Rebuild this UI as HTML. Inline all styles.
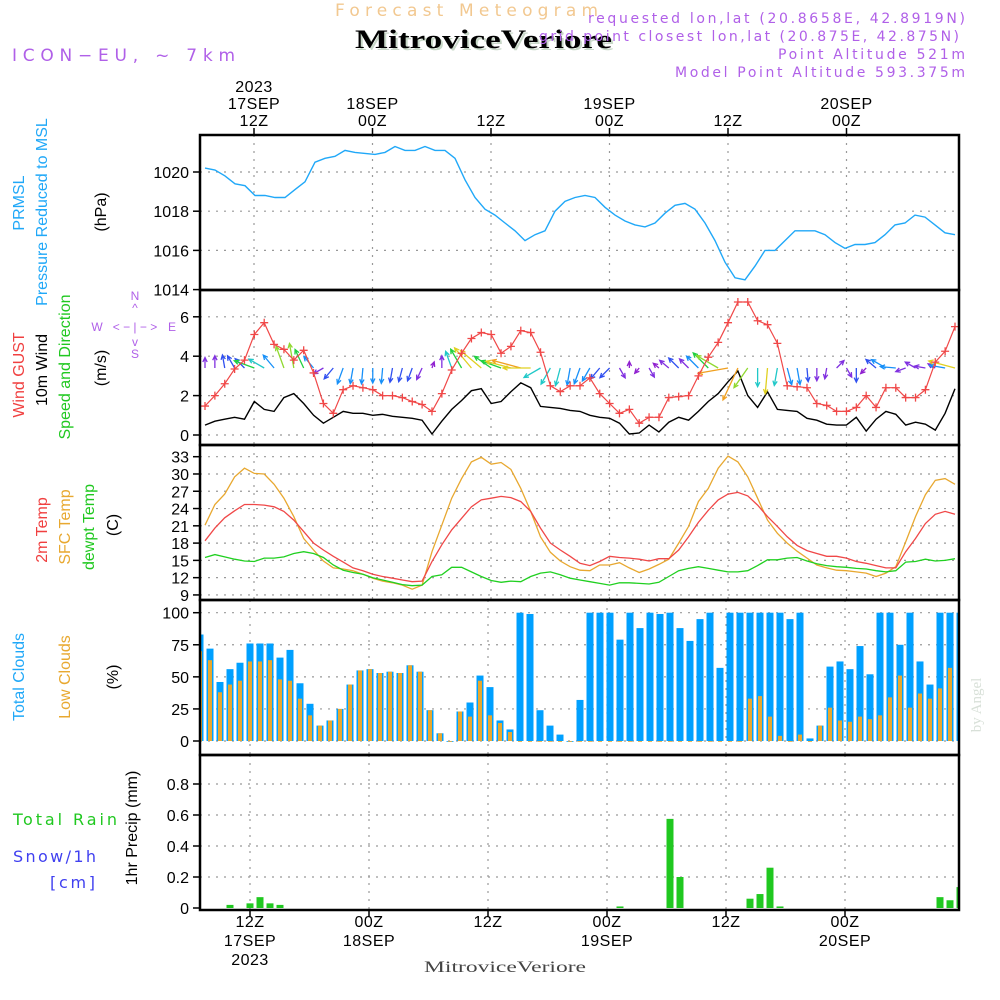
<!DOCTYPE html>
<html><head><meta charset="utf-8"><style>
html,body{margin:0;padding:0;background:#fff;}
svg{display:block;font-family:"Liberation Sans",sans-serif;}
.dv{font-family:"DejaVu Sans","Liberation Sans",sans-serif;}
</style></head><body>
<svg id="chart" width="1000" height="1000" viewBox="0 0 1000 1000" xmlns="http://www.w3.org/2000/svg">
<g id="hdr">
<text class="dv" x="335" y="16" textLength="263" lengthAdjust="spacing" font-size="17" fill="#f2c890">Forecast Meteogram</text>
<text x="357" y="50" textLength="257" lengthAdjust="spacingAndGlyphs" font-size="26" font-weight="bold" font-family="Liberation Serif,serif" fill="#c8d8c8">MitroviceVeriore</text>
<text x="355" y="48" textLength="257" lengthAdjust="spacingAndGlyphs" font-size="26" font-weight="bold" font-family="Liberation Serif,serif" fill="#000">MitroviceVeriore</text>
<text class="dv" x="12" y="61" textLength="223" lengthAdjust="spacing" font-size="17" fill="#b060e8">ICON−EU, ~ 7km</text>
<text class="dv" x="588" y="23" textLength="377" lengthAdjust="spacing" font-size="14" fill="#b060e8">requested lon,lat (20.8658E, 42.8919N)</text>
<text class="dv" x="539" y="41" textLength="420" lengthAdjust="spacing" font-size="14" fill="#b060e8">grid point closest lon,lat (20.875E, 42.875N)</text>
<text class="dv" x="778" y="59" textLength="187" lengthAdjust="spacing" font-size="14" fill="#b060e8">Point Altitude 521m</text>
<text class="dv" x="675" y="77" textLength="290" lengthAdjust="spacing" font-size="14" fill="#b060e8">Model Point Altitude 593.375m</text>
</g>
<g id="grid"></g>
<g id="marks"></g>
<g id="frames"></g>
<g id="labels" font-size="16">
<text transform="translate(24,203) rotate(-90)" text-anchor="middle" fill="#20a8f8">PRMSL</text>
<text transform="translate(47,212) rotate(-90)" text-anchor="middle" fill="#20a8f8">Pressure Reduced to MSL</text>
<text transform="translate(106,212) rotate(-90)" text-anchor="middle" fill="#000">(hPa)</text>
<text transform="translate(24,375) rotate(-90)" text-anchor="middle" fill="#f04040">Wind GUST</text>
<text transform="translate(47,370) rotate(-90)" text-anchor="middle" fill="#000">10m Wind</text>
<text transform="translate(70,367) rotate(-90)" text-anchor="middle" fill="#20c820">Speed and Direction</text>
<text transform="translate(106,368) rotate(-90)" text-anchor="middle" fill="#000">(m/s)</text>
<g fill="#b060e8" font-size="12" text-anchor="middle">
<text x="135" y="300">N</text><text x="135" y="312">^</text><text x="135" y="331">&lt; − | − &gt;</text><text x="97" y="331">W</text><text x="172" y="331">E</text><text x="135" y="346">v</text><text x="135" y="358">S</text>
</g>
<text transform="translate(47,530) rotate(-90)" text-anchor="middle" fill="#f04040">2m Temp</text>
<text transform="translate(70,527) rotate(-90)" text-anchor="middle" fill="#e8a830">SFC Temp</text>
<text transform="translate(94,527) rotate(-90)" text-anchor="middle" fill="#20c820">dewpt Temp</text>
<text transform="translate(118,525) rotate(-90)" text-anchor="middle" fill="#000">(C)</text>
<text transform="translate(24,677) rotate(-90)" text-anchor="middle" fill="#20a8f8">Total Clouds</text>
<text transform="translate(70,677) rotate(-90)" text-anchor="middle" fill="#e8a830">Low Clouds</text>
<text transform="translate(118,677) rotate(-90)" text-anchor="middle" fill="#000">(%)</text>
<text class="dv" x="13" y="825" textLength="104" lengthAdjust="spacing" fill="#20c820">Total  Rain</text>
<text class="dv" x="13" y="862" textLength="83" lengthAdjust="spacing" fill="#4040f0">Snow/1h</text>
<text class="dv" x="50" y="888" textLength="45" lengthAdjust="spacing" fill="#4040f0">[cm]</text>
<text transform="translate(137,828) rotate(-90)" text-anchor="middle" fill="#000">1hr Precip (mm)</text>
<text transform="translate(981,705) rotate(-90)" text-anchor="middle" fill="#d8e0d8" font-family="Liberation Serif,serif" font-size="15">by Angel</text>
<text x="424" y="972" textLength="162" lengthAdjust="spacingAndGlyphs" fill="#444" font-family="Liberation Serif,serif" font-size="16">MitroviceVeriore</text>
</g>
</svg>
<script>
const pressure=[1020.2,1020.1,1019.8,1019.4,1019.3,1018.8,1018.8,1018.7,1018.7,1019.1,1019.5,1020.5,1020.7,1020.8,1021.1,1021.0,1020.95,1020.9,1021.0,1021.3,1021.1,1021.1,1021.3,1021.1,1021.1,1020.7,1019.6,1018.7,1018.1,1017.8,1017.4,1017.0,1016.5,1016.8,1017.0,1018.0,1018.5,1018.7,1018.8,1018.7,1018.2,1017.8,1017.5,1017.3,1017.2,1017.4,1017.9,1018.3,1018.4,1018.1,1017.4,1016.5,1015.4,1014.6,1014.5,1015.2,1016.0,1016.0,1016.5,1017.0,1017.0,1017.0,1016.8,1016.4,1016.1,1016.3,1016.3,1016.4,1016.8,1017.3,1017.4,1017.8,1017.7,1017.3,1016.9,1016.8];
const windGust=[1.47,2.0,2.6,3.35,3.8,5.1,5.7,4.6,4.35,3.8,4.3,3.15,1.6,1.1,2.3,2.5,2.4,2.3,2.0,2.0,1.9,1.7,1.55,1.2,2.1,3.3,4.15,4.9,5.2,5.1,4.15,4.5,5.3,5.2,4.2,2.5,2.2,2.5,2.5,2.9,2.1,1.6,1.1,1.3,0.6,0.9,0.9,1.9,1.95,2.0,3.0,3.95,4.7,5.7,6.75,6.75,5.8,5.6,4.65,2.5,2.45,2.4,1.6,1.5,1.2,1.2,1.4,2.0,1.4,2.4,2.4,1.9,1.9,2.3,3.7,4.25,5.5];
const windSpeed=[0.5,0.7,0.8,0.9,0.8,1.7,1.3,1.2,1.9,2.1,1.6,1.0,0.6,0.9,1.2,1.1,1.1,1.0,1.05,0.95,0.9,0.85,0.75,0.05,0.7,1.3,1.75,2.25,2.35,1.6,1.7,2.2,2.65,2.4,1.45,1.4,1.35,1.25,1.2,1.0,0.9,0.85,0.6,0.05,0.1,0.5,0.15,0.65,0.9,0.75,1.2,1.7,2.1,2.7,3.25,2.0,1.4,2.2,1.3,1.25,1.2,0.85,0.75,0.55,0.5,0.5,0.9,0.2,0.8,1.2,1.05,0.5,0.65,0.55,0.25,1.1,2.35];
const windDir=[0,0,350,330,315,290,300,320,340,350,335,320,240,220,200,190,185,180,185,190,195,200,205,20,0,340,330,320,310,305,290,285,285,270,240,210,195,190,200,210,220,225,150,0,220,150,310,310,315,315,315,315,300,260,205,215,180,185,190,165,170,175,180,190,45,150,180,225,310,300,275,250,300,280,300,280,285];
const temp2m=[18.4,20.6,22.4,23.6,24.7,24.7,24.6,24.3,23.5,22,20,18,16.8,15.7,14.7,13.7,13.2,12.6,12.2,11.9,11.6,11.3,11.4,14.8,17.7,20.3,22.3,24.3,25.5,25.8,26.1,25.9,25.2,23.5,20.6,18,16.8,15.7,14.5,14.1,14.8,15.7,15.5,15.4,15.2,14.9,15.3,15.3,16.8,19.1,21.6,23.7,25.5,26.5,26.8,26.2,24.6,22.6,20.9,19.1,17.6,16.7,16.2,15.7,15.7,15.4,14.8,14.5,14.1,13.7,13.7,16.5,18.8,21.4,23,23.5,23];
const tempSfc=[21.1,24.7,26.5,29.5,31,30.1,30,28.2,25.8,22.6,18.8,16.8,14.9,13.7,13.5,13.2,12.6,11.9,11.4,11.1,10.7,10,10.7,16.5,21.1,25.8,29.2,32.1,32.9,31.7,32,30.8,27.5,23.5,19.1,16.4,14.9,13.9,13.3,13.2,14.2,14.2,14.6,13.7,12.9,13.5,14.3,15.2,18,20.9,25.2,27.5,31,33.1,32.1,29.5,25.8,22,19.7,18,16.6,15.4,14.2,13.7,13.3,13.2,13,12.8,12.2,12.8,13.9,18.2,22.6,26.4,28.9,29.2,28.2];
const tempDew=[15.5,16,15.6,15.2,14.9,14.8,15.4,15.4,15.6,16.2,16.5,16.2,15.5,14.2,13.3,12.9,12.6,12,11.6,11.2,10.8,10.6,10.7,12.2,12.5,13.8,13.8,13,12.2,11.5,11.2,11.4,11.3,12.2,12.8,13,12.5,11.9,11.6,11.3,11,10.7,11.1,11.1,11,10.9,11.2,12.2,13.2,13.6,13.9,13.6,13.3,13,13,13.2,14.1,15.1,15.1,15.4,15.5,14.9,14.4,14.1,13.9,13.8,13.6,13.5,13.2,13,13.2,14.7,14.8,15.2,14.9,15,15.3];
const totalClouds=[83,72,46,56,61,76,76,76,65,71,45,29,12,16,25,44,55,56,53,54,53,59,54,24,6,0,23,30,51,42,16,9,100,99,24,12,5,0,32,100,100,100,79,100,88,100,99,100,88,78,95,100,57,100,100,100,100,100,100,95,100,2,12,58,62,56,74,52,100,100,75,100,62,44,100,100,100];
const lowClouds=[70,63,38,44,47,62,62,63,48,47,33,20,12,16,25,44,55,56,53,54,53,59,54,24,6,0,23,19,47,20,14,7,0,0,0,0,0,0,0,0,0,0,0,0,0,0,0,0,0,0,0,0,0,0,0,33,35,19,4,0,5,0,12,26,16,15,19,17,20,34,51,26,37,33,41,57,54];
const precipIdx=[3,5,6,7,8,42,47,48,55,56,57,58,74,75,76];
const precipVal=[0.02,0.03,0.07,0.03,0.02,0.01,0.575,0.2,0.06,0.09,0.26,0.01,0.07,0.05,0.135];
const pTicks=[1014,1016,1018,1020];
const wTicks=[0,2,4,6];
const tTicks=[9,12,15,18,21,24,27,30,33];
const cTicks=[0,25,50,75,100];
const rTicks=[0,0.2,0.4,0.6,0.8];
const topTimeLabels=[["2023","17SEP","12Z"],["","18SEP","00Z"],["","","12Z"],["","19SEP","00Z"],["","","12Z"],["","20SEP","00Z"]];
const botTimeLabels=[["12Z","17SEP","2023"],["00Z","18SEP",""],["12Z","",""],["00Z","19SEP",""],["12Z","",""],["00Z","20SEP",""]];

const NS="http://www.w3.org/2000/svg";
function mk(tag,attrs,parent){const e=document.createElementNS(NS,tag);for(const k in attrs)e.setAttribute(k,attrs[k]);parent.appendChild(e);return e;}
const L=200,R=959;
const P={p:[135,290],w:[290,445],t:[445,600],c:[600,755],r:[755,910]};
const yP=v=>172-(v-1020)*19.6;
const yW=v=>435-v*19.7;
const yT=v=>456.7+(33-v)*5.76;
const yC=v=>741-v*1.283;
const yR=v=>908-v*155;
const xLine=(i,n)=>205+i*750/(n-1);
const xBar=k=>200+k*10;
const gridTop=[254,372.5,491,609.5,728,846.5];
const gridBot=[250,369,488,607,726,845];
const grid=document.getElementById('grid'),marks=document.getElementById('marks'),frames=document.getElementById('frames'),labels=document.getElementById('labels');

const defs=mk('defs',{},document.getElementById('chart'));
const cp=mk('clipPath',{id:'plotclip'},defs);
mk('rect',{x:L,y:135,width:R-L,height:775},cp);

function panelGrid(key,xs,ticks,yf,fmt){
  const [t,b]=P[key];
  xs.forEach(x=>{const l=mk('line',{x1:x,y1:t,x2:x,y2:b,stroke:'#999','stroke-dasharray':'2,6','stroke-width':1.2},grid);
    
    });
  ticks.forEach(v=>{const y=yf(v);
    if(y>t+2&&y<b-2){const l=mk('line',{x1:L,y1:y,x2:R,y2:y,stroke:'#999','stroke-dasharray':'2,6','stroke-width':1.2},grid);
      
      }
    const tk=mk('line',{x1:193,y1:y,x2:L,y2:y,stroke:'#000','stroke-width':1.5},frames);
    
    
    const tx=mk('text',{x:189,y:y+6,'text-anchor':'end','font-size':16,fill:'#000'},labels);
    tx.textContent=fmt(v);
    
    });
}
panelGrid('p',gridTop,pTicks,yP,v=>String(v));
panelGrid('w',gridTop,wTicks,yW,v=>String(v));
panelGrid('t',gridTop,tTicks,yT,v=>String(v));
panelGrid('c',gridBot,cTicks,yC,v=>String(v));
panelGrid('r',gridBot,rTicks,yR,v=>v===0?'0':v.toFixed(1));

function poly(arr,yf,color,w,name){
  const pts=arr.map((v,i)=>xLine(i,arr.length).toFixed(1)+','+yf(v).toFixed(1)).join(' ');
  const e=mk('polyline',{points:pts,fill:'none',stroke:color,'stroke-width':w,'clip-path':'url(#plotclip)'},marks);
  
  
}
poly(pressure,yP,'#20a8f8',1.4,'pressure-line');

totalClouds.forEach((v,k)=>{const x=xBar(k);
  const b=mk('rect',{x:x-3.5,y:yC(v),width:7,height:Math.max(yC(0)-yC(v),0.8),fill:'#00a0ff','clip-path':'url(#plotclip)'},marks);
  
  });
lowClouds.forEach((v,k)=>{const x=xBar(k);
  const b=mk('rect',{x:x-2,y:yC(v),width:4,height:Math.max(yC(0)-yC(v),0.8),fill:'#e8a830','clip-path':'url(#plotclip)'},marks);
  
  });
precipIdx.forEach((k,j)=>{const x=xBar(k);const v=precipVal[j];
  const b=mk('rect',{x:x-3.5,y:yR(v),width:7,height:yR(0)-yR(v),fill:'#20c820','clip-path':'url(#plotclip)'},marks);
  
  });

poly(tempSfc,yT,'#e8a830',1.3,'sfc-temp-line');
poly(temp2m,yT,'#f04848',1.3,'temp-2m-line');
poly(tempDew,yT,'#20d020',1.3,'dewpt-line');

poly(windSpeed,yW,'#000',1.4,'wind-speed-line');
function windColor(s){if(s<0.3)return'#9020d0';if(s<0.8)return'#8030e0';if(s<1.0)return'#3050f0';if(s<1.3)return'#1890f8';if(s<1.6)return'#20c8c8';if(s<1.9)return'#20d040';if(s<2.2)return'#90d830';if(s<2.5)return'#e0d020';return'#f0a020';}
windDir.forEach((d,i)=>{if(i>=windSpeed.length)return;
  const s=windSpeed[i];const x=xLine(i,windSpeed.length);const y=368;
  const len=6+9*s;const r=d*Math.PI/180;
  const ex=x+len*Math.sin(r),ey=y-len*Math.cos(r);
  const hl=5;const a1=r+Math.PI-0.45,a2=r+Math.PI+0.45;
  const c=windColor(s);
  const g=mk('path',{d:`M${x},${y}L${ex},${ey}M${ex+hl*Math.sin(a1)},${ey-hl*Math.cos(a1)}L${ex},${ey}L${ex+hl*Math.sin(a2)},${ey-hl*Math.cos(a2)}`,stroke:c,fill:'none','stroke-width':1.3,'clip-path':'url(#plotclip)'},marks);
  
  });
poly(windGust,yW,'#f04848',1.2,'wind-gust-line');
windGust.forEach((v,i)=>{const x=xLine(i,windGust.length),y=yW(v);
  const p=mk('path',{d:`M${x-4},${y}h8M${x},${y-4}v8`,stroke:'#f04848','stroke-width':1.3,'clip-path':'url(#plotclip)'},marks);
  
  });

Object.keys(P).forEach(k=>{const [t,b]=P[k];
  const r=mk('rect',{x:L,y:t,width:R-L,height:b-t,fill:'none',stroke:'#000','stroke-width':2.5},frames);
  
  });
gridTop.forEach((x,i)=>{const t=mk('line',{x1:x,y1:128,x2:x,y2:135,stroke:'#000','stroke-width':1.5},frames);
  
  
  topTimeLabels[i].forEach((s,j)=>{if(!s)return;const tx=mk('text',{x:x,y:92+j*17,'text-anchor':'middle','font-size':16,fill:'#000','letter-spacing':'0.5'},labels);tx.textContent=s;
    
    });});
gridBot.forEach((x,i)=>{const t=mk('line',{x1:x,y1:910,x2:x,y2:917,stroke:'#000','stroke-width':1.5},frames);
  
  
  botTimeLabels[i].forEach((s,j)=>{if(!s)return;const tx=mk('text',{x:x,y:927+j*19,'text-anchor':'middle','font-size':16,fill:'#000','letter-spacing':'0.5'},labels);tx.textContent=s;
    
    });});
</script>
</body></html>
